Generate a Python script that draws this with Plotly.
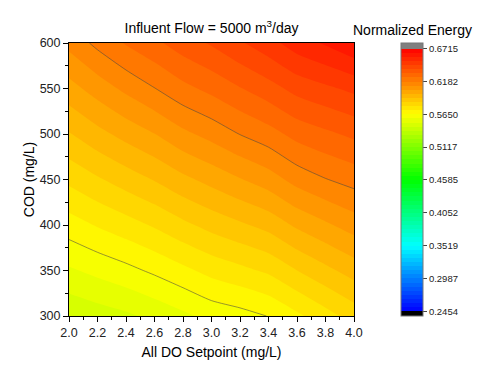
import plotly.graph_objects as go

# ---- data ----
do_setpoint = [2.0, 2.2, 2.4, 2.6, 2.8, 3.0, 3.2, 3.4, 3.6, 3.8, 4.0]
cod = [300, 350, 400, 450, 500, 550, 600]
energy = [
    [0.5461, 0.5483, 0.5504, 0.5534, 0.5568, 0.5605, 0.5625, 0.5652, 0.5703, 0.5757, 0.5810],
    [0.5573, 0.5602, 0.5630, 0.5663, 0.5700, 0.5738, 0.5765, 0.5795, 0.5849, 0.5898, 0.5945],
    [0.5686, 0.5722, 0.5755, 0.5791, 0.5834, 0.5872, 0.5905, 0.5939, 0.5995, 0.6038, 0.6080],
    [0.5799, 0.5841, 0.5881, 0.5920, 0.5966, 0.6005, 0.6045, 0.6084, 0.6141, 0.6179, 0.6208],
    [0.5911, 0.5961, 0.6006, 0.6048, 0.6100, 0.6139, 0.6184, 0.6222, 0.6272, 0.6302, 0.6330],
    [0.6024, 0.6079, 0.6132, 0.6180, 0.6230, 0.6268, 0.6312, 0.6355, 0.6405, 0.6435, 0.6465],
    [0.6137, 0.6200, 0.6255, 0.6300, 0.6350, 0.6390, 0.6440, 0.6490, 0.6550, 0.6590, 0.6640],
]
cbar_ticks = [0.2454, 0.2987, 0.3519, 0.4052, 0.4585, 0.5117, 0.5650, 0.6182, 0.6715]
level_min = 0.2454
level_max = 0.6715
n_bands = 64
line_levels = [0.5650, 0.6182]

step = (level_max - level_min) / n_bands
nb = n_bands + 1  # number of colour slots (j / nb)

def f(p):
    return (n_bands * p + 0.5) / nb

colorscale = [
    [0.0, "rgb(0,0,0)"],
    [0.004, "rgb(0,0,0)"],
    [f(0.0), "rgb(0,0,255)"],
    [f(0.25), "rgb(0,255,255)"],
    [f(0.5), "rgb(0,255,0)"],
    [f(0.75), "rgb(255,255,0)"],
    [f(1.0), "rgb(255,0,0)"],
    [0.996, "rgb(128,128,128)"],
    [1.0, "rgb(128,128,128)"],
]

FONT = "Liberation Sans, Arial, sans-serif"

fig = go.Figure()
fig.add_trace(go.Contour(
    x=do_setpoint, y=cod, z=energy,
    autocontour=False,
    contours=dict(start=level_min, end=level_max, size=step,
                  coloring="fill", showlines=False),
    line=dict(width=0, smoothing=0.6),
    colorscale=colorscale,
    zauto=False,
    zmin=level_min - 0.0076, zmax=level_max + 0.0092,
    colorbar=dict(
        x=(401 - 69) / 285, xanchor="left", xpad=0,
        y=0.5, yanchor="middle", ypad=0,
        len=1.0, lenmode="fraction",
        thickness=21.5, thicknessmode="pixels",
        tickvals=cbar_ticks,
        ticktext=["%.4f" % v for v in cbar_ticks],
        ticks="outside", ticklen=4, tickcolor="#444", tickwidth=1,
        tickfont=dict(family=FONT, size=9.5, color="#222"),
        outlinecolor="#777", outlinewidth=1,
    ),
    hoverinfo="skip",
))
fig.add_trace(go.Contour(
    x=do_setpoint, y=cod, z=energy,
    autocontour=False,
    contours=dict(start=line_levels[0], end=line_levels[1],
                  size=line_levels[1] - line_levels[0], coloring="none"),
    line=dict(color="rgba(70,70,70,0.55)", width=1, smoothing=0.6),
    showscale=False,
    hoverinfo="skip",
))

axis_common = dict(
    showgrid=False, zeroline=False,
    showline=True, linecolor="black", linewidth=1, mirror=True,
    ticks="outside", ticklen=5, tickwidth=1, tickcolor="black",
    tickfont=dict(family=FONT, size=12.5, color="#222"),
)

fig.update_layout(
    width=498, height=382,
    margin=dict(l=69, r=144, t=43, b=65.5),
    paper_bgcolor="white", plot_bgcolor="white",
    font=dict(family=FONT, color="black"),
    title=dict(text="Influent Flow = 5000 m<sup>3</sup>/day",
               x=(69 + 354) / 2 / 498, xanchor="center",
               y=1 - 28 / 382, yanchor="middle",
               font=dict(family=FONT, size=14, color="black")),
    xaxis=dict(range=[2.0, 4.0], dtick=0.2, tick0=2.0, tickformat=".1f",
               minor=dict(dtick=0.1, ticks="outside", ticklen=3, tickcolor="black"),
               title=dict(text="All DO Setpoint (mg/L)", standoff=8,
                          font=dict(family=FONT, size=14, color="black")),
               **axis_common),
    yaxis=dict(range=[300, 600], dtick=50, tick0=300,
               minor=dict(dtick=25, ticks="outside", ticklen=3, tickcolor="black"),
               title=dict(text="COD (mg/L)", standoff=1,
                          font=dict(family=FONT, size=14, color="black")),
               **axis_common),
    annotations=[dict(text="Normalized Energy", xref="paper", yref="paper",
                      x=(412 - 69) / 285, y=1 + (43 - 30) / 273.5,
                      xanchor="center", yanchor="middle", showarrow=False,
                      font=dict(family=FONT, size=14, color="black"))],
)

fig.write_html("out.html",
               config={"displayModeBar": False},
               post_script="document.body.style.margin='0px';document.body.style.padding='0px';")
